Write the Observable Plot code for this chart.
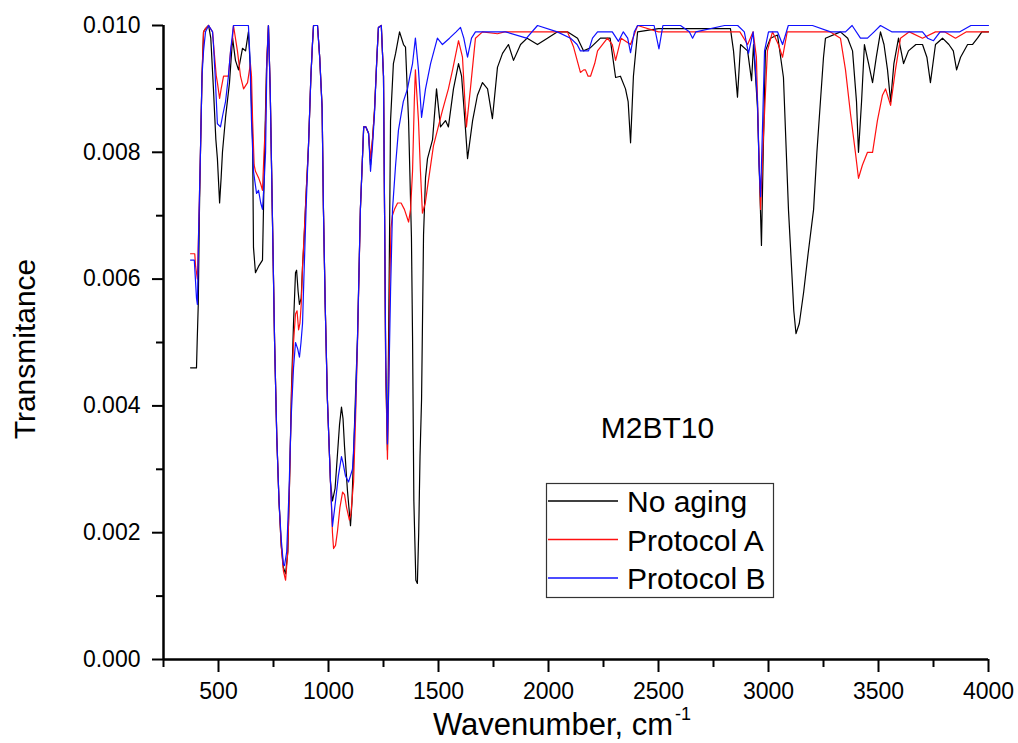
<!DOCTYPE html>
<html><head><meta charset="utf-8">
<script src="https://cdn.jsdelivr.net/npm/d3@7"></script>
<script src="https://cdn.jsdelivr.net/npm/@observablehq/plot@0.6"></script>
<style>
body{margin:0;background:#fff;}
#chart{position:relative;width:1018px;height:743px;}
</style></head><body><div id="chart"></div>
<script>
// ---- data: [wavenumber (cm-1), transmitance] ----
const noAging = [[373,.00460],[400,.00460],[403,.00500],[408,.00560],[413,.00700],[418,.00800],[425,.00920],[432,.00990],[441,.00995],[455,.01000],[465,.00980],[477,.00900],[488,.00820],[495,.00790],[505,.00720],[512,.00760],[518,.00800],[532,.00855],[550,.00910],[564,.00980],[577,.00945],[591,.00930],[609,.00964],[623,.00960],[636,.00990],[645,.00930],[655,.00820],[659,.00650],[668,.00610],[682,.00620],[700,.00630],[705,.00720],[714,.00870],[718,.00930],[727,.01000],[735,.00900],[745,.00700],[755,.00500],[765,.00350],[775,.00250],[785,.00180],[795,.00145],[805,.00135],[815,.00170],[823,.00280],[832,.00430],[841,.00530],[850,.00610],[855,.00614],[862,.00580],[868,.00560],[876,.00570],[882,.00620],[888,.00656],[899,.00740],[909,.00810],[920,.00920],[927,.00970],[932,.01000],[950,.01000],[960,.00950],[971,.00870],[977,.00710],[985,.00560],[995,.00410],[1009,.00280],[1018,.00250],[1030,.00270],[1041,.00325],[1050,.00370],[1059,.00398],[1066,.00380],[1073,.00335],[1086,.00267],[1100,.00211],[1107,.00250],[1114,.00325],[1123,.00420],[1132,.00510],[1145,.00710],[1160,.00840],[1170,.00840],[1182,.00830],[1191,.00780],[1200,.00820],[1209,.00866],[1220,.00950],[1227,.00997],[1240,.01000],[1250,.00920],[1255,.00700],[1260,.00460],[1268,.00330],[1273,.00500],[1277,.00650],[1282,.00850],[1295,.00940],[1305,.00956],[1323,.00990],[1341,.00970],[1350,.00966],[1364,.00850],[1377,.00666],[1382,.00510],[1388,.00250],[1397,.00125],[1404,.00120],[1410,.00200],[1416,.00320],[1423,.00410],[1432,.00670],[1441,.00760],[1450,.00790],[1473,.00820],[1491,.00900],[1509,.00840],[1532,.00850],[1545,.00840],[1568,.00900],[1591,.00940],[1605,.00920],[1620,.00850],[1632,.00790],[1655,.00850],[1677,.00890],[1700,.00910],[1723,.00900],[1745,.00853],[1768,.00934],[1791,.00956],[1818,.00970],[1841,.00945],[1873,.00970],[1903,.00980],[1950,.00970],[1995,.00980],[2041,.00990],[2086,.00990],[2132,.00980],[2159,.00960],[2191,.00965],[2236,.00980],[2280,.00980],[2305,.00918],[2327,.00920],[2350,.00900],[2362,.00880],[2373,.00815],[2386,.00920],[2405,.00990],[2500,.00995],[2600,.00995],[2700,.00995],[2827,.00995],[2841,.00960],[2859,.00887],[2873,.00970],[2905,.00960],[2923,.00913],[2932,.00970],[2950,.00870],[2960,.00750],[2968,.00653],[2976,.00800],[2986,.00960],[3009,.00980],[3041,.00985],[3068,.00918],[3091,.00708],[3100,.00650],[3115,.00550],[3125,.00514],[3140,.00530],[3160,.00580],[3180,.00640],[3205,.00710],[3220,.00800],[3236,.00880],[3250,.00950],[3259,.00980],[3327,.00990],[3360,.00980],[3382,.00960],[3400,.00880],[3409,.00800],[3423,.00880],[3436,.00970],[3455,.00940],[3473,.00910],[3490,.00950],[3509,.00990],[3525,.00970],[3541,.00930],[3555,.00880],[3570,.00940],[3591,.00980],[3614,.00940],[3636,.00960],[3670,.00970],[3700,.00970],[3720,.00950],[3736,.00910],[3759,.00970],[3791,.00980],[3820,.00970],[3840,.00960],[3855,.00930],[3873,.00950],[3905,.00970],[3927,.00970],[3950,.00980],[3970,.00990],[4000,.00990]];

const protocolA = [[373,.00640],[392,.00640],[396,.00620],[404,.00600],[410,.00680],[418,.00800],[425,.00920],[432,.00990],[441,.00995],[455,.01000],[473,.00990],[480,.00960],[490,.00920],[495,.00910],[505,.00885],[512,.00900],[523,.00920],[545,.00920],[555,.00960],[564,.00980],[568,.01000],[586,.00960],[600,.00920],[614,.00900],[632,.00910],[645,.00940],[650,.00920],[655,.00850],[662,.00780],[668,.00770],[682,.00760],[692,.00750],[700,.00740],[707,.00800],[714,.00850],[720,.00950],[727,.01000],[735,.00900],[745,.00700],[755,.00500],[765,.00350],[775,.00250],[785,.00180],[795,.00140],[805,.00125],[815,.00170],[823,.00280],[832,.00420],[841,.00500],[850,.00545],[857,.00550],[864,.00520],[870,.00530],[876,.00560],[882,.00620],[888,.00660],[899,.00740],[909,.00810],[920,.00920],[927,.00970],[932,.01000],[950,.01000],[960,.00950],[971,.00870],[977,.00710],[985,.00560],[995,.00410],[1009,.00280],[1018,.00200],[1023,.00175],[1032,.00180],[1041,.00203],[1052,.00240],[1064,.00264],[1073,.00260],[1082,.00240],[1095,.00220],[1102,.00230],[1109,.00260],[1114,.00280],[1123,.00380],[1132,.00500],[1145,.00710],[1160,.00840],[1170,.00840],[1182,.00830],[1191,.00790],[1200,.00820],[1209,.00866],[1220,.00950],[1227,.00997],[1240,.01000],[1250,.00920],[1255,.00700],[1260,.00460],[1268,.00316],[1273,.00420],[1278,.00580],[1284,.00680],[1290,.00700],[1300,.00710],[1314,.00720],[1330,.00720],[1345,.00710],[1364,.00690],[1373,.00710],[1382,.00770],[1390,.00880],[1395,.00930],[1400,.00900],[1409,.00850],[1418,.00770],[1427,.00704],[1440,.00720],[1450,.00745],[1477,.00810],[1518,.00866],[1545,.00900],[1564,.00930],[1591,.00976],[1609,.00950],[1620,.00880],[1627,.00840],[1645,.00900],[1668,.00980],[1700,.00990],[1768,.00987],[1800,.00990],[1900,.00990],[2000,.00990],[2086,.00990],[2114,.00966],[2145,.00926],[2160,.00930],[2168,.00930],[2180,.00920],[2191,.00920],[2210,.00940],[2223,.00960],[2268,.00980],[2290,.00970],[2305,.00945],[2330,.00980],[2373,.00970],[2405,.01000],[2500,.00990],[2650,.00990],[2700,.00990],[2827,.00990],[2870,.00990],[2905,.00970],[2930,.00990],[2945,.00950],[2955,.00814],[2964,.00710],[2975,.00810],[2995,.00960],[3018,.00990],[3045,.00970],[3064,.00950],[3085,.00990],[3100,.00990],[3200,.00990],[3280,.00990],[3327,.00980],[3350,.00930],[3373,.00860],[3395,.00800],[3409,.00759],[3427,.00780],[3450,.00800],[3473,.00800],[3495,.00850],[3518,.00890],[3532,.00900],[3555,.00874],[3577,.00930],[3600,.00980],[3640,.00990],[3700,.00980],[3759,.00990],[3800,.00990],[3850,.00980],[3900,.00990],[4000,.00990]];

const protocolB = [[373,.00630],[390,.00630],[395,.00600],[400,.00570],[404,.00560],[410,.00680],[418,.00800],[425,.00920],[432,.00960],[441,.00990],[455,.01000],[473,.00990],[477,.00970],[485,.00920],[495,.00845],[509,.00840],[520,.00860],[532,.00880],[545,.00920],[555,.00960],[568,.01000],[636,.01000],[643,.00950],[650,.00850],[659,.00770],[673,.00735],[682,.00740],[692,.00720],[700,.00710],[707,.00750],[714,.00800],[720,.00940],[727,.01000],[735,.00900],[745,.00700],[755,.00500],[765,.00350],[775,.00250],[785,.00190],[795,.00150],[800,.00148],[810,.00170],[820,.00260],[830,.00380],[841,.00460],[850,.00500],[860,.00490],[868,.00477],[875,.00500],[882,.00530],[888,.00600],[899,.00720],[909,.00810],[920,.00920],[927,.00970],[932,.01000],[950,.01000],[960,.00950],[971,.00870],[977,.00710],[985,.00560],[995,.00410],[1009,.00280],[1018,.00210],[1032,.00250],[1045,.00290],[1059,.00320],[1066,.00310],[1077,.00290],[1091,.00280],[1100,.00290],[1109,.00300],[1114,.00330],[1123,.00400],[1132,.00510],[1145,.00710],[1160,.00840],[1170,.00840],[1182,.00830],[1191,.00770],[1200,.00810],[1209,.00860],[1220,.00950],[1227,.00997],[1240,.01000],[1250,.00920],[1255,.00700],[1260,.00480],[1268,.00340],[1275,.00450],[1282,.00580],[1291,.00710],[1305,.00780],[1318,.00835],[1340,.00880],[1359,.00900],[1370,.00920],[1382,.00940],[1395,.00980],[1409,.00930],[1423,.00855],[1441,.00900],[1464,.00940],[1495,.00980],[1518,.00970],[1550,.00980],[1580,.00990],[1600,.00997],[1615,.00980],[1632,.00950],[1650,.00980],[1668,.00990],[1700,.00990],[1805,.00990],[1900,.00980],[1950,.01000],[2040,.00990],[2100,.00980],[2130,.00970],[2145,.00960],[2170,.00960],[2182,.00960],[2200,.00980],[2223,.00990],[2290,.00990],[2318,.00975],[2340,.00990],[2360,.00980],[2373,.00957],[2390,.00990],[2405,.01000],[2480,.01000],[2502,.00963],[2520,.01000],[2600,.01000],[2640,.00990],[2655,.00980],[2670,.00990],[2800,.01000],[2860,.01000],[2890,.00990],[2909,.00956],[2930,.00990],[2950,.00880],[2957,.00780],[2964,.00730],[2972,.00830],[2982,.00960],[3000,.00990],[3041,.00990],[3064,.00970],[3090,.01000],[3200,.01000],[3282,.00990],[3350,.00990],[3380,.01000],[3418,.00980],[3432,.00980],[3450,.00980],[3480,.00990],[3509,.01000],[3560,.00990],[3610,.00990],[3650,.00990],[3700,.00990],[3723,.00980],[3750,.00976],[3780,.00990],[3820,.00990],[3870,.00990],[3920,.01000],[4000,.01000]];

const seriesNames = ["No aging", "Protocol A", "Protocol B"];
const seriesColors = ["#000000", "#ff1010", "#1010ff"];
const xMajorTicks = [500, 1000, 1500, 2000, 2500, 3000, 3500, 4000];
const xMinorTicks = [250, 750, 1250, 1750, 2250, 2750, 3250, 3750];
const yMajorTicks = [0, 0.002, 0.004, 0.006, 0.008, 0.010];
const yMinorTicks = [0.001, 0.003, 0.005, 0.007, 0.009];
const annotations = [{label: "M2BT10", x: 2495, y: 0.00364}];
const xLabel = "Wavenumber, cm";
const xLabelSup = "-1";
const yLabel = "Transmitance";

const rows = [];
[noAging, protocolA, protocolB].forEach((arr, i) =>
  arr.forEach(([w, t]) => rows.push({series: seriesNames[i], wavenumber: w, transmittance: t})));

const font = "'Liberation Sans', Arial, sans-serif";
const chart = Plot.plot({
  width: 1018, height: 743,
  marginLeft: 163, marginRight: 30, marginTop: 25, marginBottom: 84,
  style: {fontFamily: font, color: "#000", background: "#fff", overflow: "visible"},
  x: {domain: [250, 4000]},
  y: {domain: [0, 0.010]},
  color: {domain: seriesNames, range: seriesColors},
  marks: [
    Plot.line(rows, {x: "wavenumber", y: "transmittance", z: "series", stroke: "series", strokeWidth: 1.2}),
    Plot.axisX({ticks: xMinorTicks, tickSize: 8, tickFormat: () => "", label: null, strokeWidth: 2}),
    Plot.axisX({ticks: xMajorTicks, tickSize: 13, tickPadding: 10, tickFormat: d => String(d), label: null, strokeWidth: 2, fontSize: 23}),
    Plot.axisY({ticks: yMinorTicks, tickSize: 7, tickFormat: () => "", label: null, strokeWidth: 2}),
    Plot.axisY({ticks: yMajorTicks, tickSize: 11, tickPadding: 12, tickFormat: d3.format(".3f"), label: null, strokeWidth: 2, fontSize: 23}),
    Plot.ruleY([0], {strokeWidth: 2.5}),
    Plot.ruleX([250], {strokeWidth: 2.5}),
    Plot.text(annotations, {x: "x", y: "y", text: "label", fontSize: 30, textAnchor: "middle"})
  ]
});
document.getElementById("chart").appendChild(chart);

const svg = d3.select(chart);
// axis titles
const xt = svg.append("text").attr("x", 433).attr("y", 735).attr("text-anchor", "start")
  .attr("font-family", font).attr("font-size", 31).attr("fill", "#000");
xt.append("tspan").text(xLabel);
xt.append("tspan").attr("dy", -15).attr("dx", 2).attr("font-size", 18).text(xLabelSup);
svg.append("text").attr("transform", "translate(35,349) rotate(-90)")
  .attr("text-anchor", "middle").attr("font-family", font).attr("font-size", 30)
  .attr("fill", "#000").text(yLabel);

// legend
const lg = svg.append("g");
lg.append("rect").attr("x", 546.5).attr("y", 483.5).attr("width", 227).attr("height", 114)
  .attr("fill", "#fff").attr("stroke", "#333").attr("stroke-width", 1.2);
seriesNames.forEach((name, i) => {
  const y = 501 + i * 38.5;
  lg.append("line").attr("x1", 548).attr("x2", 618).attr("y1", y).attr("y2", y)
    .attr("stroke", seriesColors[i]).attr("stroke-width", 1.3);
  lg.append("text").attr("x", 627).attr("y", y + 11).attr("text-anchor", "start")
    .attr("font-family", font).attr("font-size", 30).attr("fill", "#000").text(name);
});
</script></body></html>
